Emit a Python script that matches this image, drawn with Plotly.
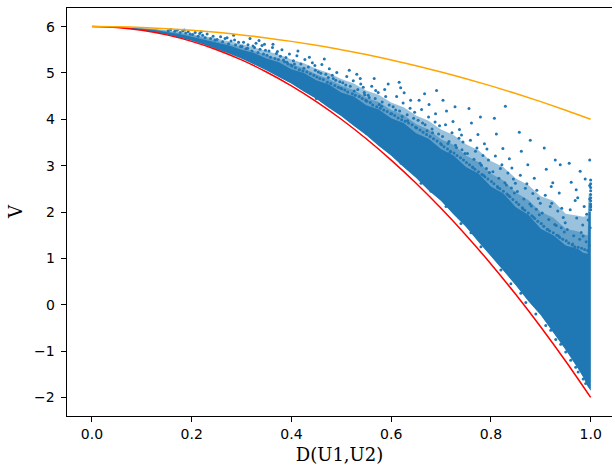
import plotly.graph_objects as go

# ---- curve values ----
curve_x = [0.0, 0.05, 0.1, 0.15, 0.2, 0.25, 0.3, 0.35, 0.4, 0.45, 0.5,
           0.55, 0.6, 0.65, 0.7, 0.75, 0.8, 0.85, 0.9, 0.95, 1.0]
red_y = [6.0, 5.98, 5.92, 5.82, 5.68, 5.50, 5.28, 5.02, 4.72, 4.38, 4.0,
         3.58, 3.12, 2.62, 2.08, 1.50, 0.88, 0.22, -0.48, -1.22, -2.0]
orange_y = [6.0, 5.995, 5.98, 5.955, 5.92, 5.875, 5.82, 5.755, 5.68, 5.595, 5.5,
            5.395, 5.28, 5.155, 5.02, 4.875, 4.72, 4.555, 4.38, 4.195, 4.0]

# ---- density zones of the point cloud: lower edge, dense top, medium top, halo top ----
core_x = [0.0, 0.025, 0.05, 0.075, 0.1, 0.125, 0.15, 0.175, 0.2, 0.225, 0.25, 0.275,
          0.3, 0.325, 0.35, 0.375, 0.4, 0.425, 0.45, 0.475, 0.5, 0.525, 0.55, 0.575,
          0.6, 0.625, 0.65, 0.675, 0.7, 0.725, 0.75, 0.775, 0.8, 0.825, 0.85, 0.875,
          0.9, 0.925, 0.95, 0.975, 0.985, 0.994, 0.996, 1.0]
core_lo = [6.0, 5.995, 5.98, 5.957, 5.925, 5.882, 5.83, 5.768, 5.70, 5.615, 5.525, 5.42,
           5.31, 5.19, 5.06, 4.91, 4.77, 4.60, 4.44, 4.25, 4.07, 3.86, 3.66, 3.43,
           3.22, 2.97, 2.74, 2.47, 2.24, 1.95, 1.68, 1.36, 1.06, 0.74, 0.42, 0.08,
           -0.22, -0.60, -0.97, -1.38, -1.56, -1.76, -1.80, -1.85]
core_hi = [6.0, 5.998, 5.99, 5.975, 5.955, 5.925, 5.885, 5.84, 5.78, 5.73, 5.655, 5.59,
           5.50, 5.43, 5.31, 5.23, 5.08, 5.00, 4.84, 4.75, 4.58, 4.49, 4.30, 4.21,
           4.02, 3.92, 3.70, 3.58, 3.36, 3.22, 2.97, 2.83, 2.55, 2.40, 2.10, 1.94,
           1.64, 1.50, 1.28, 1.20, 1.12, 1.10, 2.0, 2.0]
mid_hi = [6.0, 5.999, 5.993, 5.982, 5.965, 5.94, 5.905, 5.865, 5.815, 5.76, 5.70, 5.63,
          5.555, 5.48, 5.39, 5.30, 5.19, 5.10, 4.97, 4.87, 4.73, 4.63, 4.47, 4.37,
          4.20, 4.09, 3.90, 3.78, 3.57, 3.45, 3.22, 3.08, 2.83, 2.68, 2.42, 2.26,
          2.00, 1.88, 1.64, 1.58, 1.52, 1.50, 2.2, 2.2]
halo_hi = [6.0, 5.999, 5.995, 5.986, 5.972, 5.95, 5.92, 5.885, 5.84, 5.795, 5.745, 5.685,
           5.625, 5.56, 5.475, 5.395, 5.29, 5.21, 5.09, 5.00, 4.87, 4.77, 4.62, 4.53,
           4.36, 4.26, 4.08, 3.97, 3.78, 3.66, 3.46, 3.33, 3.10, 2.97, 2.72, 2.58,
           2.34, 2.24, 1.96, 1.92, 1.90, 1.92, 2.4, 2.4]

# ---- scattered points around the core (read region by region) ----
pts_x = [
    0.153, 0.158, 0.166, 0.171, 0.177, 0.182, 0.188, 0.193, 0.197, 0.185,
    0.202, 0.207, 0.213, 0.216, 0.222, 0.227, 0.231, 0.238, 0.243, 0.247, 0.219,
    0.251, 0.258, 0.262, 0.267, 0.274, 0.279, 0.284, 0.288, 0.294, 0.298, 0.271, 0.286,
    0.301, 0.304, 0.309, 0.313, 0.317, 0.321, 0.326, 0.329, 0.333, 0.337, 0.341, 0.344,
    0.348, 0.312, 0.335, 0.323, 0.346,
    0.351, 0.355, 0.358, 0.362, 0.367, 0.370, 0.374, 0.378, 0.381, 0.386, 0.389, 0.393,
    0.396, 0.399, 0.363, 0.384, 0.372, 0.391,
    0.401, 0.404, 0.408, 0.411, 0.416, 0.419, 0.423, 0.427, 0.431, 0.434, 0.438, 0.442,
    0.445, 0.448, 0.413, 0.436, 0.425, 0.406, 0.447,
    0.451, 0.454, 0.457, 0.461, 0.464, 0.469, 0.472, 0.476, 0.479, 0.484, 0.487, 0.491,
    0.494, 0.497, 0.466, 0.482, 0.459, 0.489, 0.474, 0.499,
    0.501, 0.503, 0.507, 0.511, 0.513, 0.518, 0.522, 0.524, 0.528, 0.533, 0.536, 0.539,
    0.542, 0.546, 0.549, 0.516, 0.531, 0.544, 0.509, 0.526, 0.538, 0.547,
    0.551, 0.554, 0.558, 0.561, 0.563, 0.568, 0.571, 0.574, 0.578, 0.582, 0.585, 0.589,
    0.592, 0.596, 0.599, 0.566, 0.587, 0.576, 0.556, 0.594, 0.581, 0.569,
    0.601, 0.604, 0.607, 0.611, 0.614, 0.617, 0.621, 0.624, 0.628, 0.632, 0.635, 0.638,
    0.642, 0.645, 0.649, 0.616, 0.626, 0.639, 0.609, 0.633, 0.647, 0.622, 0.619,
    0.651, 0.654, 0.658, 0.661, 0.664, 0.668, 0.671, 0.675, 0.678, 0.682, 0.685, 0.688,
    0.692, 0.695, 0.699, 0.667, 0.676, 0.689, 0.656, 0.683, 0.697, 0.672, 0.663, 0.691,
    0.701, 0.703, 0.706, 0.709, 0.713, 0.716, 0.719, 0.722, 0.726, 0.729, 0.732, 0.736,
    0.739, 0.742, 0.745, 0.748, 0.711, 0.724, 0.737, 0.704, 0.731, 0.744, 0.718, 0.728,
    0.741, 0.714,
    0.751, 0.753, 0.757, 0.759, 0.763, 0.766, 0.768, 0.772, 0.775, 0.778, 0.782, 0.784,
    0.788, 0.791, 0.794, 0.797, 0.761, 0.774, 0.787, 0.756, 0.781, 0.795, 0.769, 0.779,
    0.792, 0.764, 0.785,
    0.801, 0.804, 0.806, 0.809, 0.813, 0.816, 0.818, 0.822, 0.825, 0.828, 0.832, 0.834,
    0.838, 0.841, 0.844, 0.847, 0.811, 0.824, 0.837, 0.807, 0.831, 0.845, 0.819, 0.829,
    0.842, 0.814, 0.835, 0.849,
    0.851, 0.853, 0.856, 0.859, 0.863, 0.866, 0.868, 0.872, 0.875, 0.878, 0.882, 0.884,
    0.888, 0.891, 0.894, 0.897, 0.861, 0.874, 0.887, 0.857, 0.881, 0.895, 0.869, 0.879,
    0.892, 0.864, 0.885, 0.899,
    0.901, 0.903, 0.906, 0.909, 0.913, 0.916, 0.918, 0.922, 0.925, 0.928, 0.932, 0.934,
    0.938, 0.941, 0.944, 0.947, 0.911, 0.924, 0.937, 0.907, 0.931, 0.945, 0.919, 0.929,
    0.942, 0.914, 0.935, 0.949, 0.921, 0.939,
    0.951, 0.953, 0.956, 0.959, 0.963, 0.966, 0.968, 0.972, 0.975, 0.978, 0.982, 0.984,
    0.988, 0.991, 0.994, 0.997, 0.961, 0.974, 0.987, 0.957, 0.981, 0.995, 0.969, 0.979,
    0.992, 0.964, 0.985, 0.999, 0.971, 0.989,
    1.0, 1.0, 1.0, 1.0, 1.0, 1.0, 1.0, 1.0, 1.0, 1.0, 1.0, 0.998, 0.998, 0.998,
    0.62, 0.66, 0.71, 0.74, 0.78, 0.82, 0.84, 0.87, 0.89, 0.91, 0.93, 0.94,
    0.96, 0.97, 0.985, 0.99, 0.55, 0.45, 0.68, 0.76, 0.86, 0.92, 0.95, 0.975,
]
pts_y = [
    5.91, 5.935, 5.90, 5.92, 5.87, 5.905, 5.86, 5.89, 5.84, 5.925,
    5.83, 5.87, 5.79, 5.85, 5.81, 5.76, 5.84, 5.74, 5.79, 5.71, 5.89,
    5.72, 5.78, 5.67, 5.74, 5.63, 5.69, 5.81, 5.60, 5.66, 5.57, 5.76, 5.71,
    5.57, 5.66, 5.52, 5.61, 5.74, 5.47, 5.55, 5.64, 5.44, 5.51, 5.59, 5.41,
    5.49, 5.53, 5.70, 5.58, 5.62,
    5.38, 5.47, 5.34, 5.55, 5.31, 5.42, 5.29, 5.36, 5.50, 5.24, 5.33, 5.19,
    5.41, 5.17, 5.62, 5.28, 5.46, 5.23,
    5.15, 5.26, 5.11, 5.37, 5.07, 5.19, 5.04, 5.29, 5.02, 5.13, 4.98, 5.22,
    4.95, 5.06, 5.47, 5.34, 5.10, 5.19, 5.16,
    4.91, 5.02, 4.88, 5.18, 4.86, 4.97, 4.80, 5.09, 4.77, 4.88, 4.73, 5.01,
    4.69, 4.81, 5.30, 4.95, 4.99, 4.84, 4.90, 4.67,
    4.66, 4.79, 4.63, 4.92, 4.59, 4.71, 4.55, 4.83, 4.52, 4.64, 4.49, 4.76,
    4.45, 4.58, 4.41, 5.06, 4.97, 4.69, 4.74, 4.61, 4.88, 4.53,
    4.39, 4.52, 4.36, 4.71, 4.31, 4.45, 4.27, 4.58, 4.24, 4.37, 4.20, 4.49,
    4.17, 4.31, 4.12, 4.88, 4.64, 4.32, 4.47, 4.76, 4.28, 4.62,
    4.12, 4.27, 4.08, 4.49, 4.03, 4.18, 3.99, 4.35, 3.96, 4.10, 3.92, 4.24,
    3.88, 4.02, 3.83, 4.80, 4.57, 4.41, 4.20, 3.97, 4.15, 4.06, 4.68,
    3.81, 3.98, 3.77, 4.21, 3.72, 3.88, 3.67, 4.05, 3.63, 3.79, 3.58, 3.94,
    3.53, 3.68, 3.48, 4.55, 4.32, 4.12, 4.41, 3.71, 3.86, 3.75, 3.92, 4.62,
    3.45, 3.63, 3.41, 3.88, 3.36, 3.52, 3.31, 3.71, 3.27, 3.44, 3.22, 3.59,
    3.17, 3.34, 3.12, 3.26, 4.18, 3.95, 3.78, 4.41, 3.39, 3.51, 3.29, 4.27,
    3.66, 3.48,
    3.07, 3.26, 3.02, 3.55, 2.97, 3.14, 2.92, 3.38, 2.87, 3.05, 2.81, 3.22,
    2.76, 2.94, 2.71, 2.85, 3.92, 3.67, 3.47, 4.23, 3.01, 3.12, 3.31, 4.05,
    3.36, 2.96, 2.79,
    2.66, 2.87, 2.61, 3.21, 2.55, 2.73, 2.50, 3.02, 2.45, 2.63, 2.39, 2.84,
    2.33, 2.52, 2.27, 2.41, 3.68, 3.37, 3.15, 4.02, 2.58, 2.71, 2.94, 4.28,
    2.95, 2.53, 2.36, 2.62,
    2.21, 2.44, 2.16, 2.79, 2.09, 2.28, 2.04, 2.61, 1.98, 2.17, 1.92, 2.40,
    1.86, 2.06, 1.80, 1.94, 3.31, 3.02, 2.73, 3.72, 2.13, 2.29, 2.51, 3.55,
    2.47, 2.07, 1.89, 2.19,
    1.75, 1.98, 1.69, 2.36, 1.63, 1.84, 1.59, 2.19, 1.55, 1.73, 1.50, 2.02,
    1.45, 1.66, 1.41, 1.57, 2.92, 2.63, 2.41, 3.38, 1.71, 1.88, 2.12, 3.12,
    2.08, 1.62, 1.49, 1.77, 2.55, 3.02,
    1.38, 1.62, 1.33, 2.05, 1.29, 1.49, 1.25, 1.87, 1.24, 1.41, 1.22, 1.72,
    1.19, 1.36, 1.17, 1.28, 2.64, 2.31, 2.12, 3.05, 1.56, 1.83, 2.25, 2.88,
    1.95, 1.31, 1.48, 1.66, 2.48, 2.71,
    2.05, 2.11, 2.17, 2.24, 2.31, 2.38, 2.46, 2.53, 2.61, 2.69, 2.13, 2.28, 2.57, 3.12,
    3.05, 2.62, 2.12, 1.75, 1.25, 0.75, 0.45, 0.05, -0.20, -0.45, -0.75, -0.85,
    -1.20, -1.35, -1.60, -1.70, 3.70, 4.45, 2.45, 1.55, 0.25, -0.55, -1.02, -1.45,
]

x_ticks = [0.0, 0.2, 0.4, 0.6, 0.8, 1.0]
y_ticks = [-2, -1, 0, 1, 2, 3, 4, 5, 6]
y_tick_text = ["\u22122", "\u22121", "0", "1", "2", "3", "4", "5", "6"]

BLUE = "#1f77b4"
BLUE_A = "rgba(31,119,180,0.45)"


def band(upper, fill):
    return go.Scatter(x=core_x + core_x[::-1], y=core_lo + upper[::-1],
                      mode="lines", fill="toself", fillcolor=fill,
                      line=dict(width=0), hoverinfo="skip", showlegend=False)


fig = go.Figure()
fig.add_trace(band(halo_hi, BLUE_A))
fig.add_trace(band(mid_hi, BLUE_A))
fig.add_trace(band(core_hi, BLUE))
fig.add_trace(go.Scatter(
    x=pts_x, y=pts_y, mode="markers",
    marker=dict(color=BLUE, size=3, line=dict(width=0)), showlegend=False))
fig.add_trace(go.Scatter(
    x=curve_x, y=red_y, mode="lines", line=dict(color="red", width=1.5, shape="spline"),
    showlegend=False))
fig.add_trace(go.Scatter(
    x=curve_x, y=orange_y, mode="lines", line=dict(color="orange", width=1.5, shape="spline"),
    showlegend=False))

tick_font = dict(family="DejaVu Sans", size=14, color="black")
for v, t in zip(y_ticks, y_tick_text):
    fig.add_annotation(x=0, xref="paper", y=v, yref="y", text=t, showarrow=False,
                       xanchor="right", yanchor="middle", xshift=-10, font=tick_font)
fig.add_annotation(x=0, xref="paper", y=0.5, yref="paper", text="V", showarrow=False,
                   textangle=-90, xanchor="center", yanchor="middle", xshift=-52,
                   font=dict(family="DejaVu Serif", size=18, color="black"))

fig.update_layout(
    width=612, height=465,
    margin=dict(l=67, r=0, t=8, b=49),
    paper_bgcolor="white", plot_bgcolor="white",
    showlegend=False,
    xaxis=dict(range=[-0.05, 1.0428], tickvals=x_ticks, tickformat=".1f",
               showgrid=False, zeroline=False, showline=True, linecolor="black",
               linewidth=1, mirror=True, ticks="outside", ticklen=5, tickcolor="black",
               tickfont=tick_font, automargin=False,
               title=dict(text="D(U1,U2)", font=dict(family="DejaVu Serif", size=18, color="black"),
                          standoff=7)),
    yaxis=dict(range=[-2.4, 6.4], tickvals=y_ticks, showticklabels=False,
               showgrid=False, zeroline=False, showline=True, linecolor="black",
               linewidth=1, mirror=False, ticks="outside", ticklen=5, tickcolor="black",
               automargin=False),
)

fig.write_html("out.html", config={"displayModeBar": False},
               post_script="document.body.style.margin='0';")
